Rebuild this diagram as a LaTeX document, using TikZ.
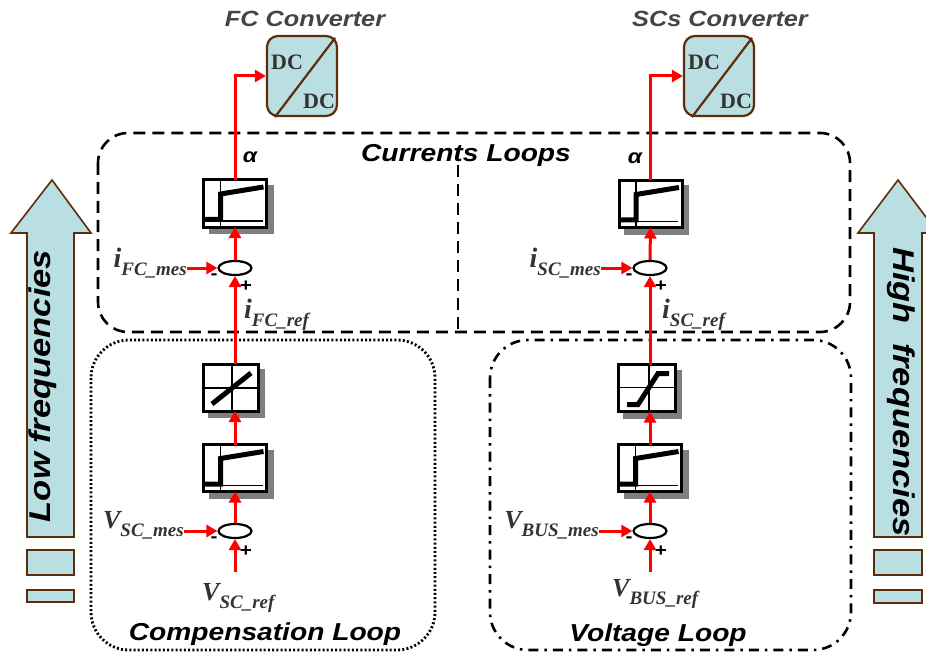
\documentclass[tikz,border=0pt]{standalone}
\usepackage{fontspec}
\setmainfont{Liberation Serif}
\newfontfamily\hel[FakeStretch=1.15]{Liberation Sans}
\usetikzlibrary{arrows.meta,shapes.geometric,calc,backgrounds}
\definecolor{lblue}{HTML}{B9DFE2}
\definecolor{brn}{HTML}{5C2D08}
\definecolor{lblc}{HTML}{333333}
\definecolor{ttl}{HTML}{444444}
\definecolor{shd}{HTML}{7F7F7F}
\newcommand\mysig[3]{{\fontsize{#3}{#3}\selectfont\bfseries\itshape #1}\raisebox{-8pt}{\fontsize{19}{19}\selectfont\bfseries\itshape #2}}
\newcommand\pideco[1]{%
  \begin{scope}[shift={(#1.north west)}]
    \draw[thinl] (17,0) -- (17,47);
    \draw[thinl] (0,41) -- (59,41);
    \draw[thickl] (0,39.5) -- (17,39.5) -- (17,14) -- (60,7);
  \end{scope}}
\newcommand\myshadow[1]{%
  \begin{pgfonlayer}{background}
    \fill[shd] ($(#1.north west)+(5,5)$) rectangle ($(#1.south east)+(7,7)$);
  \end{pgfonlayer}}
\begin{document}
\begin{tikzpicture}[x=1pt,y=-1pt,
  pib/.style={draw, line width=3pt, fill=white, inner sep=0pt, outer sep=0pt,
    minimum width=63pt, minimum height=47pt},
  satb/.style={pib, minimum width=55pt},
  sumj/.style={ellipse, draw, line width=2.2pt, fill=white, inner sep=0pt,
    minimum width=33pt, minimum height=14pt},
  sigar/.style={red, line width=3pt, -{Triangle[length=11pt,width=12pt]}},
  lbl/.style={inner sep=0pt, text=lblc},
  thinl/.style={line width=1.3pt},
  thickl/.style={line width=5pt, line join=miter},
  dcbox/.style={draw=brn, line width=2.2pt, fill=lblue, rounded corners=11pt,
    minimum width=70pt, minimum height=80pt, inner sep=0pt},
  dctxt/.style={inner sep=0pt, text=lblc, font=\fontsize{22}{22}\selectfont\bfseries},
  ttlt/.style={inner sep=0pt, text=ttl, font=\hel\fontsize{22}{22}\selectfont\bfseries\itshape},
  loopt/.style={inner sep=0pt, font=\hel\fontsize{24.5}{24.5}\selectfont\bfseries\itshape},
  freqt/.style={inner sep=0pt, font=\hel\fontsize{30}{30}\selectfont\bfseries\itshape},
  signt/.style={inner sep=0pt, font=\hel\fontsize{18}{18}\selectfont\bfseries},
  bigarr/.style={draw=brn, fill=lblue, line width=1.6pt}
]
\useasboundingbox (0,0) rectangle (926,655);
\begin{pgfonlayer}{background}
\fill[white] (0,0) rectangle (926,655);
\end{pgfonlayer}

% loop frames
\draw[line width=2.6pt, dash pattern=on 12pt off 7pt, rounded corners=30pt]
  (98,133) rectangle (850,332);
\draw[line width=2.6pt, dash pattern=on 12pt off 7pt] (458,165) -- (458,332);
\draw[line width=2.8pt, dash pattern=on 2pt off 2.2pt, rounded corners=38pt]
  (91,340) rectangle (435,650);
\draw[line width=2.6pt, dash pattern=on 10pt off 6pt on 2.5pt off 6pt, rounded corners=38pt]
  (490,340) rectangle (851,650);

\node[loopt] (tcl) at (466,162) [anchor=base] {Currents Loops};
\node[loopt] (tco) at (265,640) [anchor=base] {Compensation Loop};
\node[loopt] (tvl) at (658,641) [anchor=base] {Voltage Loop};

% big arrows
\draw[bigarr] (52,180) -- (91,233) -- (74,233) -- (74,537) -- (27,537) -- (27,233) -- (11,233) -- cycle;
\draw[bigarr] (27,550) rectangle (74,575);
\draw[bigarr] (27,590) rectangle (74,602);
\node[freqt, rotate=90, anchor=base] (lowf) at (50,386) {Low frequencies};
\draw[bigarr] (898,180) -- (938,233) -- (922,233) -- (922,537) -- (874,537) -- (874,233) -- (858,233) -- cycle;
\draw[bigarr] (874,550) rectangle (922,575);
\draw[bigarr] (874,590) rectangle (922,603);
\node[freqt, rotate=-90, anchor=base] (highf) at (893,392) {High\ \ frequencies};

% converters
\node[ttlt, anchor=base] (t1) at (305,27) {FC Converter};
\node[ttlt, anchor=base] (t2) at (720,27) {SCs Converter};
\node[dcbox] (dc1) at (302,76) {};
\draw[brn, line width=2.2pt] ($(dc1.south west)+(9,0)$) -- ($(dc1.north east)+(-3,3)$);
\node[dctxt, anchor=base west] (dc1a) at (271,70) {DC};
\node[dctxt, anchor=base west] (dc1b) at (303,109) {DC};
\node[dcbox] (dc2) at (719,76) {};
\draw[brn, line width=2.2pt] ($(dc2.south west)+(9,0)$) -- ($(dc2.north east)+(-3,3)$);
\node[dctxt, anchor=base west] (dc2a) at (688,70) {DC};
\node[dctxt, anchor=base west] (dc2b) at (720,109) {DC};

% ---------- left chain ----------
\node[pib] (p1) at (235,203.5) {};
\myshadow{p1}
\pideco{p1}
\node[sumj] (s1) at (235,268) {};
\node[satb] (sat) at (230.5,387.5) {};
\myshadow{sat}
\begin{scope}[shift={(sat.north west)}]
  \draw[thinl] (29,0) -- (29,47);
  \draw[thinl] (0,24) -- (55,24);
  \draw[thickl] (9,40) -- (48,9);
\end{scope}
\node[pib] (p2) at (235,468) {};
\myshadow{p2}
\pideco{p2}
\node[sumj] (s2) at (235,531) {};

\node[lbl, anchor=base east] (ifm) at (187,267) {\mysig{i}{FC\_mes}{28}};
\node[lbl, anchor=base west] (ifr) at (244,318) {\mysig{i}{FC\_ref}{28}};
\node[lbl, anchor=base east] (vsm) at (184,528) {\mysig{V}{SC\_mes}{26}};
\node[lbl, anchor=base west] (vsr) at (202,600) {\mysig{V}{SC\_ref}{26}};
\coordinate (vsrin) at (235,572);

\node[signt] (m1) at ($(s1)+(-21,9)$) {-};
\node[signt] (pl1) at ($(s1)+(11,18)$) {+};
\node[signt] (m2) at ($(s2)+(-21,9)$) {-};
\node[signt] (pl2) at ($(s2)+(11,20)$) {+};

\draw[sigar] (vsrin) -- (s2.south);
\draw[sigar] (vsm.east |- s2.west) -- (s2.west);
\draw[sigar] (s2.north) -- (p2.south);
\draw[sigar] (p2.north) -- (p2.north |- sat.south);
\draw[sigar] (sat.north -| s1) -- (s1.south);
\draw[sigar] (ifm.east |- s1.west) -- (s1.west);
\draw[sigar] (s1.north) -- (p1.south);
\draw[sigar] (p1.north) |- (dc1.west);
\node[inner sep=0pt, font=\hel\fontsize{20}{20}\selectfont\bfseries\itshape, anchor=base] (al1) at (250,163) {α};

% ---------- right chain ----------
\node[pib] (q1) at (650.5,204) {};
\myshadow{q1}
\pideco{q1}
\node[sumj] (r1) at (650,268) {};
\node[satb, minimum width=57pt] (satr) at (646.5,388) {};
\myshadow{satr}
\begin{scope}[shift={(satr.north west)}]
  \draw[thinl] (31,0) -- (31,47);
  \draw[thinl] (0,23) -- (57,23);
  \draw[thickl] (9,40) -- (20,40) -- (40,9) -- (51,9);
\end{scope}
\node[pib] (q2) at (650,468) {};
\myshadow{q2}
\pideco{q2}
\node[sumj] (r2) at (650,531) {};

\node[lbl, anchor=base east] (ism) at (601,267) {\mysig{i}{SC\_mes}{28}};
\node[lbl, anchor=base west] (isr) at (662,318) {\mysig{i}{SC\_ref}{28}};
\node[lbl, anchor=base east] (vbm) at (599,528) {\mysig{V}{BUS\_mes}{26}};
\node[lbl, anchor=base west] (vbr) at (612,596) {\mysig{V}{BUS\_ref}{26}};
\coordinate (vbrin) at (650,572);

\node[signt] (m3) at ($(r1)+(-21,9)$) {-};
\node[signt] (pl3) at ($(r1)+(11,18)$) {+};
\node[signt] (m4) at ($(r2)+(-21,9)$) {-};
\node[signt] (pl4) at ($(r2)+(11,20)$) {+};

\draw[sigar] (vbrin) -- (r2.south);
\draw[sigar] (vbm.east |- r2.west) -- (r2.west);
\draw[sigar] (r2.north) -- (q2.south);
\draw[sigar] (q2.north) -- (q2.north |- satr.south);
\draw[sigar] (satr.north -| r1) -- (r1.south);
\draw[sigar] (ism.east |- r1.west) -- (r1.west);
\draw[sigar] (r1.north) -- (q1.south);
\draw[sigar] (q1.north) |- (dc2.west);
\node[inner sep=0pt, font=\hel\fontsize{20}{20}\selectfont\bfseries\itshape, anchor=base] (al2) at (635,164) {α};
\end{tikzpicture}
\end{document}
